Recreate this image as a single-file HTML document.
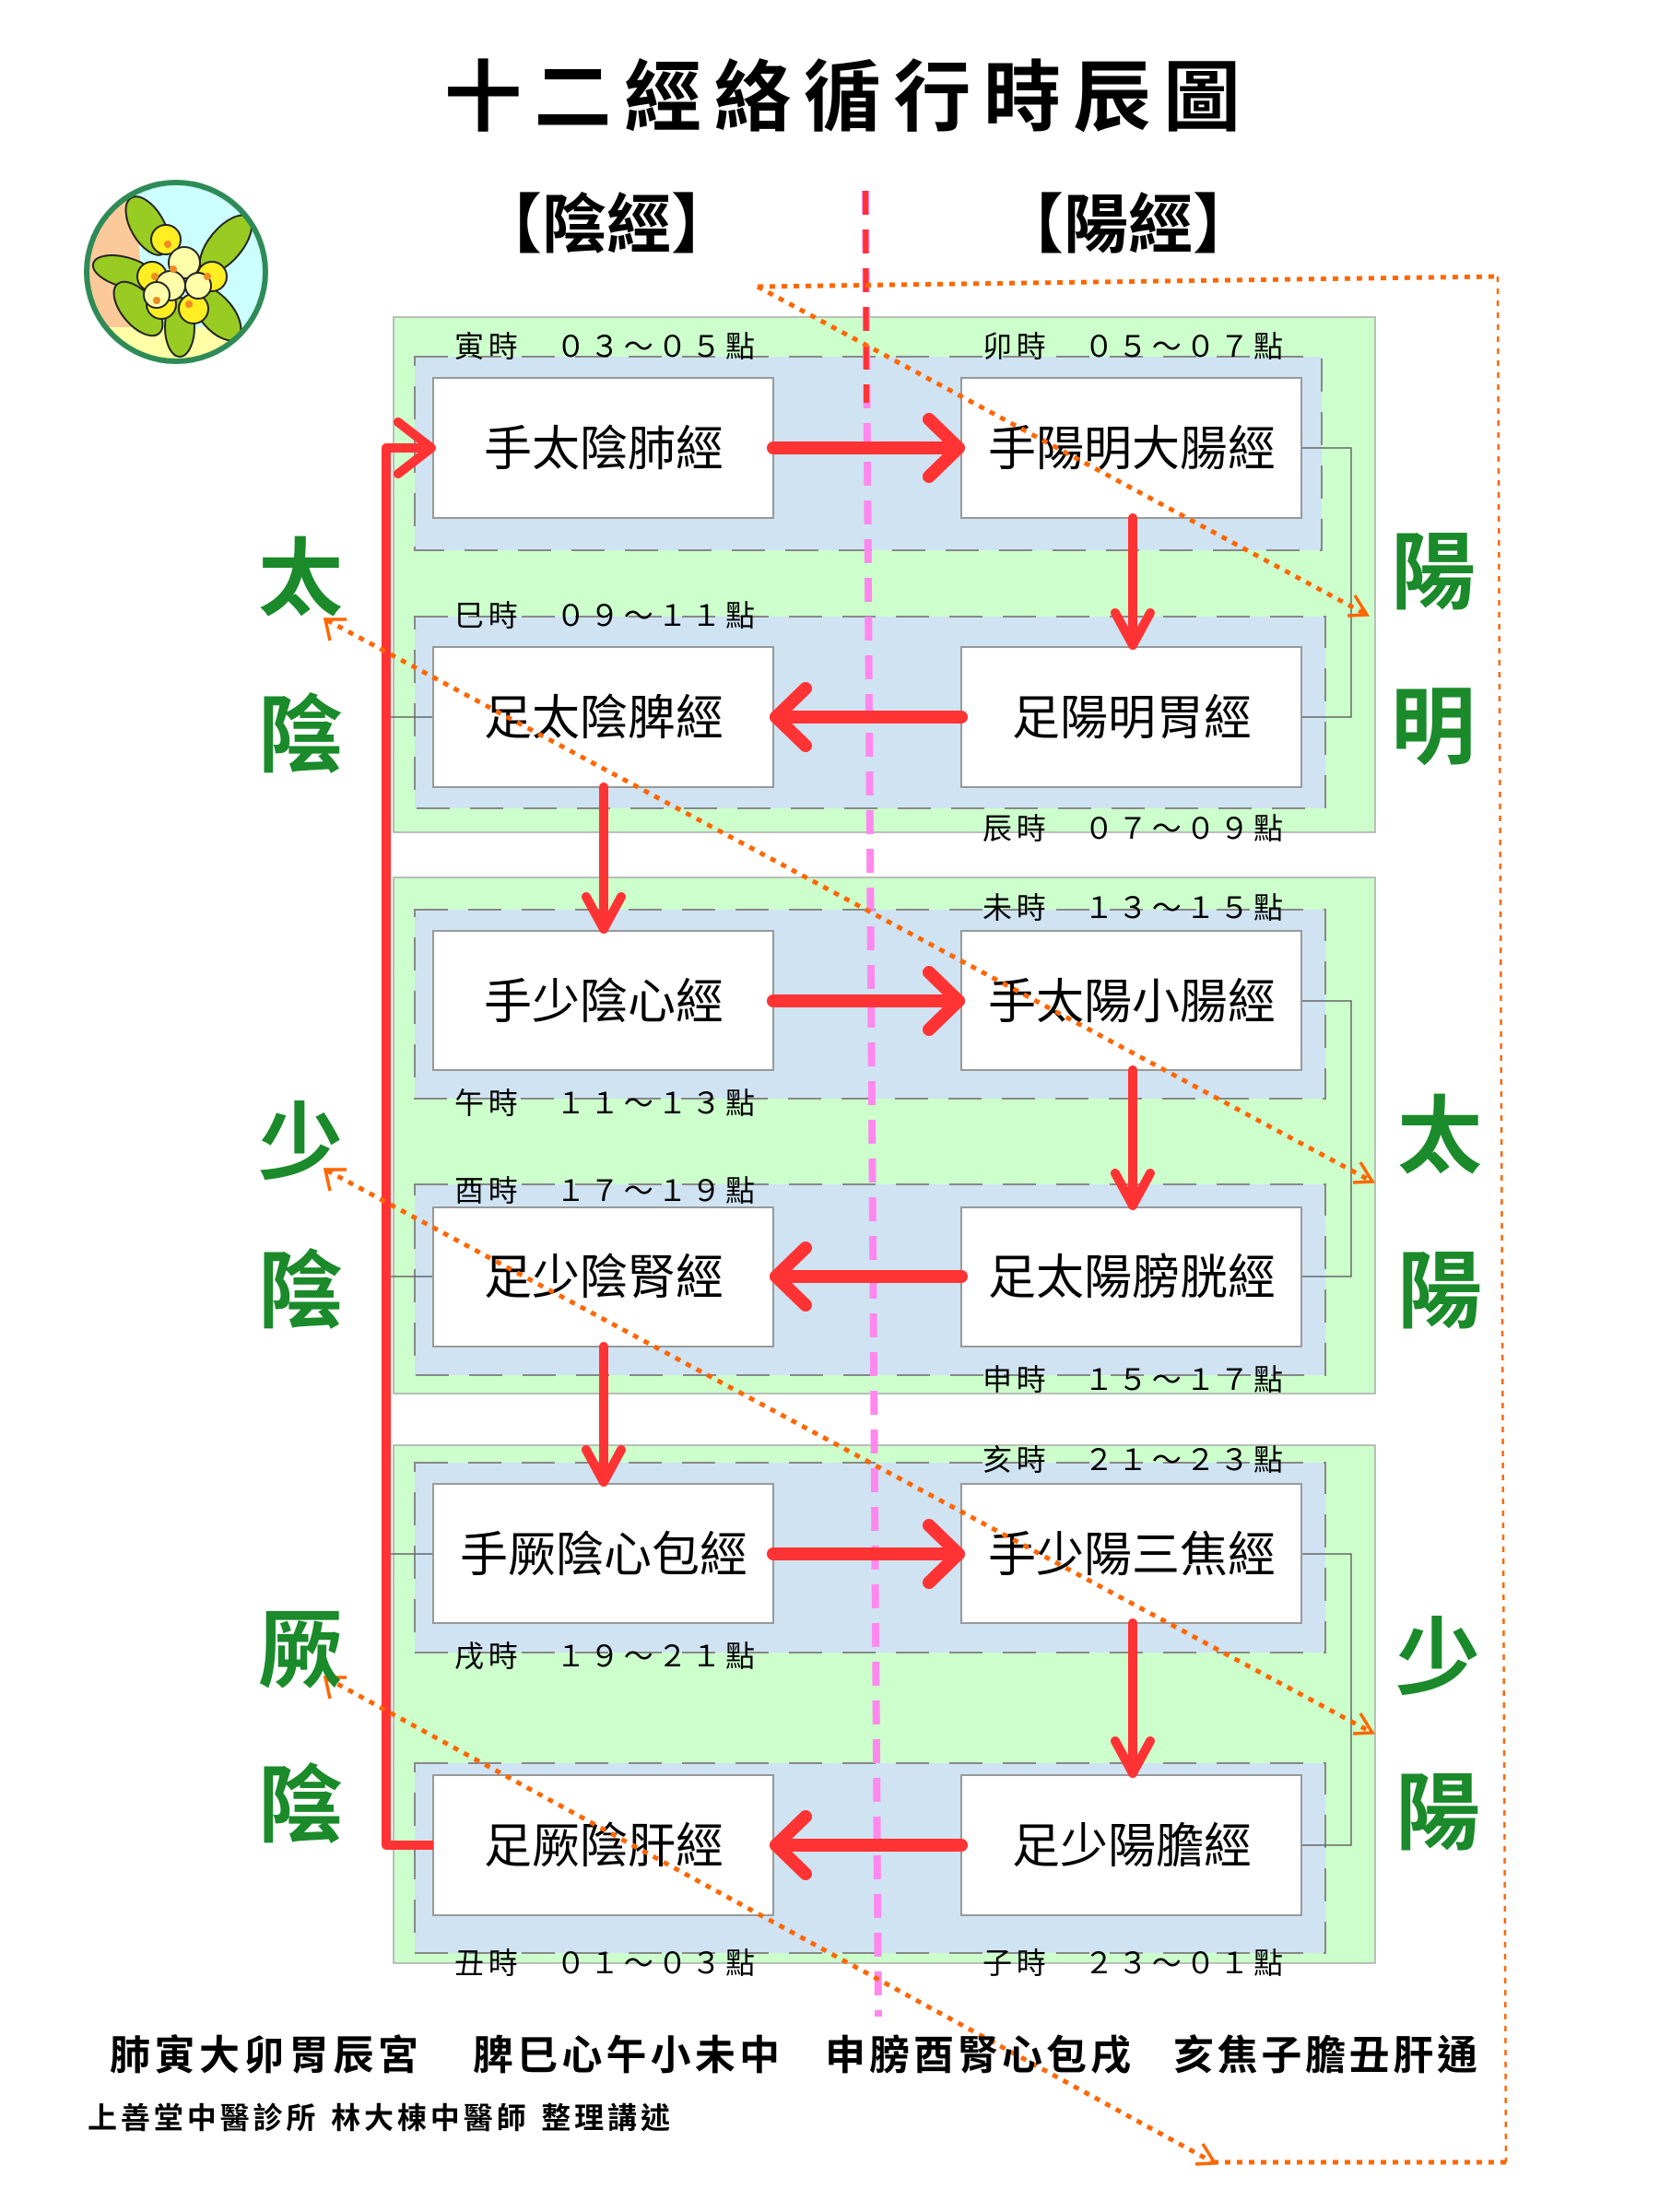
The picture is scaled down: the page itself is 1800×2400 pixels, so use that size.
<!DOCTYPE html>
<html><head><meta charset="utf-8"><style>
html,body{margin:0;padding:0;background:#fff}
svg{display:block}
text{font-family:"Liberation Sans","Noto Sans CJK TC","Noto Sans CJK SC",sans-serif}
</style></head><body>
<svg width="1800" height="2400" viewBox="0 0 1800 2400" xmlns="http://www.w3.org/2000/svg">
<defs>
<clipPath id="cc"><circle cx="191" cy="295" r="97"/></clipPath>
</defs>
<text x="914" y="135" font-size="84" font-weight="bold" text-anchor="middle" textLength="864" lengthAdjust="spacing" font-family="Noto Serif CJK TC, Noto Sans CJK TC, serif">十二經絡循行時辰圖</text>
<text x="658" y="268" font-size="70" font-weight="bold" text-anchor="middle">【陰經】</text>
<text x="1224" y="268" font-size="70" font-weight="bold" text-anchor="middle">【陽經】</text>

<g clip-path="url(#cc)">
<rect x="90" y="190" width="210" height="210" fill="#ccffff"/>
<path d="M90 190 L140 190 L150 260 L160 360 L90 360Z" fill="#fbc99a"/>
<rect x="90" y="355" width="210" height="60" fill="#ffffa6"/>
<g stroke="#222" stroke-width="2" fill="#99cc22">
<ellipse cx="160" cy="245" rx="18" ry="35" transform="rotate(-30 160 245)"/>
<ellipse cx="245" cy="265" rx="18" ry="38" transform="rotate(40 245 265)"/>
<ellipse cx="135" cy="295" rx="35" ry="16" transform="rotate(15 135 295)"/>
<ellipse cx="150" cy="335" rx="18" ry="35" transform="rotate(-40 150 335)"/>
<ellipse cx="235" cy="340" rx="18" ry="35" transform="rotate(-40 235 340)"/>
<ellipse cx="195" cy="355" rx="16" ry="32"/>
</g>
<g stroke="#222" stroke-width="2" fill="#ffee22">
<circle cx="180" cy="260" r="16"/><circle cx="165" cy="300" r="16"/><circle cx="230" cy="300" r="16"/>
<circle cx="210" cy="335" r="16"/><circle cx="175" cy="330" r="16"/>
</g>
<g stroke="#222" stroke-width="2" fill="#ffffaa">
<circle cx="200" cy="285" r="17"/><circle cx="185" cy="310" r="16"/><circle cx="215" cy="310" r="14"/><circle cx="170" cy="320" r="14"/>
</g>
<g fill="#f08a24"><circle cx="182" cy="265" r="4"/><circle cx="188" cy="292" r="4"/><circle cx="168" cy="300" r="4"/><circle cx="225" cy="300" r="4"/><circle cx="170" cy="326" r="4"/><circle cx="205" cy="330" r="4"/></g>
</g>
<circle cx="191" cy="295" r="97" fill="none" stroke="#2e8b57" stroke-width="6"/>

<g fill="#ccffcc" stroke="#aaa" stroke-width="1.5">
<rect x="427" y="344" width="1065" height="559"/>
<rect x="427" y="952" width="1065" height="560"/>
<rect x="427" y="1568" width="1065" height="562"/>
</g>
<g fill="#cfe3f2" stroke="#888" stroke-width="2" stroke-dasharray="36,22">
<rect x="450" y="387" width="984" height="210"/>
<rect x="450" y="669" width="988" height="208"/>
<rect x="450" y="987" width="988" height="205"/>
<rect x="450" y="1285" width="988" height="207"/>
<rect x="450" y="1587" width="988" height="206"/>
<rect x="450" y="1913" width="988" height="206"/>
</g>
<g fill="none" stroke="#666" stroke-width="1.5">
<path d="M1412 486 H1466 V778 H1412"/>
<path d="M1412 1086 H1466 V1385 H1412"/>
<path d="M1412 1686 H1466 V2002 H1412"/>
<path d="M419 778 H470"/><path d="M419 1385 H470"/><path d="M419 1686 H470"/>
</g>
<line x1="939" y1="207" x2="953" y2="2188" stroke="#ff88ee" stroke-width="8" stroke-dasharray="26,16"/>
<line x1="939" y1="207" x2="940" y2="437" stroke="#ff3333" stroke-width="6" stroke-dasharray="26,16"/>

<g fill="#fff" stroke="#999" stroke-width="2">
<rect x="470" y="410" width="369" height="152"/><rect x="1043" y="410" width="369" height="152"/>
<rect x="470" y="702" width="369" height="152"/><rect x="1043" y="702" width="369" height="152"/>
<rect x="470" y="1010" width="369" height="151"/><rect x="1043" y="1010" width="369" height="151"/>
<rect x="470" y="1310" width="369" height="151"/><rect x="1043" y="1310" width="369" height="151"/>
<rect x="470" y="1610" width="369" height="151"/><rect x="1043" y="1610" width="369" height="151"/>
<rect x="470" y="1926" width="369" height="152"/><rect x="1043" y="1926" width="369" height="152"/>
</g>
<g font-size="52" text-anchor="middle" fill="#000">
<text x="655" y="505">手太陰肺經</text><text x="1228" y="505">手陽明大腸經</text>
<text x="655" y="797">足太陰脾經</text><text x="1228" y="797">足陽明胃經</text>
<text x="655" y="1105">手少陰心經</text><text x="1228" y="1105">手太陽小腸經</text>
<text x="655" y="1404">足少陰腎經</text><text x="1228" y="1404">足太陽膀胱經</text>
<text x="655" y="1705">手厥陰心包經</text><text x="1228" y="1705">手少陽三焦經</text>
<text x="655" y="2021">足厥陰肝經</text><text x="1228" y="2021">足少陽膽經</text>
</g>
<g font-size="32" fill="#000">
<text x="493" y="387" textLength="326" lengthAdjust="spacing">寅時　０３～０５點</text>
<text x="1066" y="387" textLength="326" lengthAdjust="spacing">卯時　０５～０７點</text>
<text x="493" y="679" textLength="326" lengthAdjust="spacing">巳時　０９～１１點</text>
<text x="1066" y="910" textLength="326" lengthAdjust="spacing">辰時　０７～０９點</text>
<text x="1066" y="996" textLength="326" lengthAdjust="spacing">未時　１３～１５點</text>
<text x="493" y="1208" textLength="326" lengthAdjust="spacing">午時　１１～１３點</text>
<text x="493" y="1303" textLength="326" lengthAdjust="spacing">酉時　１７～１９點</text>
<text x="1066" y="1508" textLength="326" lengthAdjust="spacing">申時　１５～１７點</text>
<text x="1066" y="1595" textLength="326" lengthAdjust="spacing">亥時　２１～２３點</text>
<text x="493" y="1808" textLength="326" lengthAdjust="spacing">戌時　１９～２１點</text>
<text x="493" y="2141" textLength="326" lengthAdjust="spacing">丑時　０１～０３點</text>
<text x="1066" y="2141" textLength="326" lengthAdjust="spacing">子時　２３～０１點</text>
</g>

<g stroke="#ff3333" stroke-width="14" fill="none" stroke-linecap="round" stroke-linejoin="round">
<path d="M839 486 H1040"/><path d="M1008 455 L1040 486 L1008 517"/>
<path d="M1043 778 H842"/><path d="M874 747 L842 778 L874 809"/>
<path d="M839 1086 H1040"/><path d="M1008 1055 L1040 1086 L1008 1117"/>
<path d="M1043 1385 H842"/><path d="M874 1354 L842 1385 L874 1416"/>
<path d="M839 1686 H1040"/><path d="M1008 1655 L1040 1686 L1008 1717"/>
<path d="M1043 2002 H842"/><path d="M874 1971 L842 2002 L874 2033"/>
</g>
<g stroke="#ff3333" stroke-width="10" fill="none" stroke-linecap="round" stroke-linejoin="round">
<path d="M1229 562 V700"/><path d="M1210 665 L1229 700 L1248 665"/>
<path d="M655 854 V1008"/><path d="M636 973 L655 1008 L674 973"/>
<path d="M1229 1161 V1308"/><path d="M1210 1273 L1229 1308 L1248 1273"/>
<path d="M655 1461 V1608"/><path d="M636 1573 L655 1608 L674 1573"/>
<path d="M1229 1761 V1924"/><path d="M1210 1889 L1229 1924 L1248 1889"/>
<path d="M470 2002 H419 V486 H468" stroke-linecap="butt"/>
<path d="M432 458 L468 486 L432 514"/>
</g>

<g stroke="#ff6600" stroke-width="5" fill="none" stroke-dasharray="6,7">
<path d="M822 311 L1625 300"/>
<path d="M1625 300 L1634 2346" stroke-width="2.5"/>
<path d="M1316 2346 L1640 2346"/>
<path d="M822 311 L1481 666"/>
<path d="M355 673 L1487 1281"/>
<path d="M355 1270 L1487 1879"/>
<path d="M355 1821 L1316 2346"/>
</g>
<g stroke="#ff6600" stroke-width="3.5" fill="none">
<path d="M1470 646 L1483 667 L1462 668"/>
<path d="M1476 1261 L1489 1282 L1468 1283"/>
<path d="M1476 1859 L1489 1880 L1468 1881"/>
<path d="M1305 2326 L1318 2347 L1297 2348"/>
<path d="M358 695 L353 672 L376 672"/>
<path d="M358 1292 L353 1269 L376 1269"/>
<path d="M358 1843 L353 1820 L376 1820"/>
</g>

<g font-size="92" font-weight="bold" fill="#1a8a2a" text-anchor="middle" font-family="Noto Serif CJK TC, Noto Serif CJK SC, serif">
<text x="326" y="660">太</text><text x="326" y="830">陰</text>
<text x="1555" y="653">陽</text><text x="1555" y="821">明</text>
<text x="326" y="1272">少</text><text x="326" y="1433">陰</text>
<text x="1562" y="1265">太</text><text x="1562" y="1433">陽</text>
<text x="326" y="1823">厥</text><text x="326" y="1991">陰</text>
<text x="1560" y="1831">少</text><text x="1560" y="1999">陽</text>
</g>

<g font-size="44" font-weight="bold" fill="#000">
<text x="119" y="2245" textLength="335" lengthAdjust="spacing">肺寅大卯胃辰宮</text>
<text x="513" y="2245" textLength="333" lengthAdjust="spacing">脾巳心午小未中</text>
<text x="895" y="2245" textLength="332" lengthAdjust="spacing">申膀酉腎心包戌</text>
<text x="1273" y="2245" textLength="330" lengthAdjust="spacing">亥焦子膽丑肝通</text>
</g>
<text x="95" y="2309" font-size="32" font-weight="bold" textLength="632" lengthAdjust="spacing">上善堂中醫診所 林大棟中醫師 整理講述</text>
</svg>
</body></html>
